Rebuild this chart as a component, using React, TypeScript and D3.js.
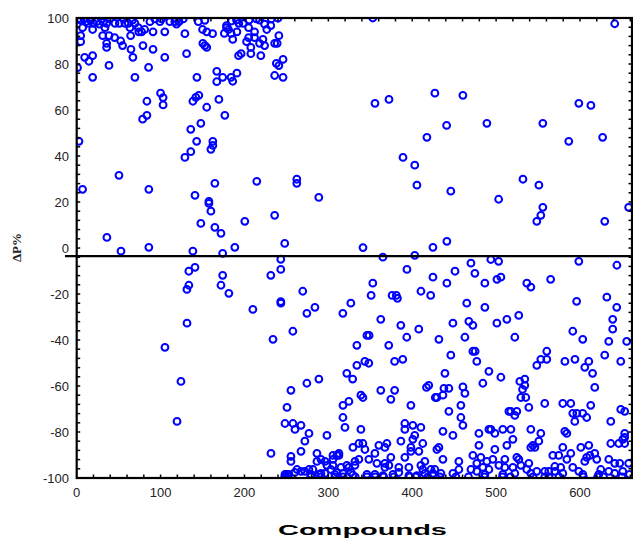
import React from 'react';
import * as d3 from 'd3';

type Pt = [number, number];

const xTickValues = [0, 100, 200, 300, 400, 500, 600];
const yTickValues = [-100, -80, -60, -40, -20, 0, 20, 40, 60, 80, 100];
const referenceLevel = -3.5;

// points, grouped by region
const topRow: Pt[] = [
  [2, 99.6], [4.7, 99.1], [8.7, 99.6], [11, 98.4], [13.8, 97.7], [16.6, 99], [19.8, 97.7], [23.8, 98.4], [27, 97.3],
  [29.7, 99.6], [31.7, 98.1], [35.7, 97.7], [38.9, 99.6], [45.6, 97.7], [50.8, 97.7], [55.5, 99.6], [57.5, 97.7],
  [61.5, 97.7], [63.5, 95.8], [66.6, 99.1], [69.4, 97.7], [73.4, 95.8], [77.4, 94], [87.3, 98.4], [93.2, 99.6],
  [99.2, 98.4], [101.2, 99.6], [111, 98.4], [117, 98.4], [119, 97.3], [122, 98.4], [127, 99.6], [145, 98.4],
  [152.8, 99], [178.6, 95.8], [184.6, 98.7], [190.5, 99.1], [193.3, 97.7], [198.5, 97.7], [205.6, 99.1],
  [214.3, 99.6], [218, 99.1], [224, 97.3], [232, 99.6], [240, 99.9],
];

const upperCluster: Pt[] = [
  [1, 78.4], [7, 95.8], [4.7, 92.3], [4.7, 89.7], [9.5, 82.9], [14.6, 81.2], [19, 83.6], [19, 74.2], [19, 95],
  [31, 92.3], [38.5, 92.3], [35.7, 89], [35.7, 87.2], [38.5, 79.4], [33.7, 95.8], [45.2, 91.5], [52.4, 90],
  [54.7, 88], [64.3, 92.3], [64.7, 86.4], [67, 82.9], [69.4, 74.2], [79, 88], [85.7, 78.5], [91, 86.4], [105, 82.9],
  [105, 94], [91, 94], [81, 95], [74, 94], [129, 93.2], [131, 84.5], [143.3, 74.2], [150, 95], [155, 94], [162, 93.2],
  [150.4, 89], [152.8, 88], [155, 87.2], [167, 76.8], [174, 74.2], [167, 72.3], [184, 74.2], [186, 72.5], [191, 76],
  [176, 93.3], [178.6, 96.7], [181, 95], [184, 93.3], [186, 90.7], [191, 94], [193, 83.6], [196, 84.5], [202.5, 89.7],
  [205, 95.8], [205, 91.5], [207.6, 87.2], [207.6, 84.5], [212, 94], [212, 91.5], [219.5, 83.6], [222, 90.7], [218, 89],
  [224, 88], [226.6, 95], [231.4, 96.7], [236, 89], [239, 89], [241, 92.3], [236, 75], [238, 80.3], [241, 79.3],
  [246, 82], [246, 74.2], [100, 67.3], [103, 65.4], [103, 62.2], [83.7, 63.8], [83.7, 57.7], [78.6, 56], [136, 51.6],
  [148, 54.2], [155, 61.2], [138.5, 63.8], [142, 65.5], [145.6, 66.4], [169.5, 64.6], [176.6, 57.7],
];

const leftMiddle: Pt[] = [
  [2.7, 46.4], [143, 46.4], [162.3, 46.4], [162.3, 44.6], [160, 42.9], [136, 41.9], [129, 39.4], [50.4, 31.6], [7, 25.5],
  [86, 25.5], [164.7, 28.1], [214.7, 29], [262.4, 29.9], [262.4, 28.1], [141, 22.9], [288.6, 22], [157.6, 20.3],
  [157.6, 19.4], [160, 16], [200.4, 11.6], [236, 14.2], [148, 10.7], [164.7, 9], [172, 6.4], [36, 4.6], [188.5, 0.3],
  [248, 2], [86, 0.3], [52.8, -1.4], [138.5, -1.4], [174, -2.3], [243.3, -4.9], [141, -8.4], [133.7, -10.1], [243.3, -9.3],
  [174, -11.9], [231.4, -11.9], [133.7, -16.2], [131.4, -18], [172, -16.2], [181.4, -19.7], [269.5, -18.8], [243.3, -23.3],
  [131.5, -32.7], [105.2, -43.2], [124.3, -58], [119.6, -75.4],
];

const rightUpper: Pt[] = [
  [353, 100], [641.4, 97.5], [355.6, 62.9], [372.3, 64.6], [427, 67.3], [460.4, 66.4], [598.6, 62.9], [613, 62], [441, 53.3],
  [489, 54.2], [555.7, 54.2], [417.5, 48.1], [586.6, 46.4], [627, 48.1], [389, 39.4], [403, 36], [405.6, 27.3], [446, 24.7],
  [532, 29.9], [551, 27.3], [503, 21.2], [658, 17.7], [555.7, 17.7], [553.3, 14.2], [548.5, 11.6], [629.5, 11.6], [341.3, 0.2],
  [441.3, 2.9], [424.7, 0.3], [365, -4], [403, -3.2], [470, -6.6], [493.7, -5], [503, -5.8], [598.6, -5.8], [644, -7.5],
  [393.7, -9.3], [451, -10.1], [474.7, -11], [424.7, -12.7], [501, -13.6], [505.7, -12.7], [565, -13.6], [353, -15.3],
  [441.3, -15.3], [486.6, -15.3], [536.6, -15.3], [541.4, -17], [410.4, -18.8], [351, -20.6], [376, -20.6], [381, -20.6],
  [422, -20.6], [632, -21.4],
];

const lowerMiddle: Pt[] = [
  [210, -26.7], [243.4, -24], [284, -25.8], [274.4, -28.4], [326.8, -24], [317.3, -28.4], [382.4, -21.9], [362.5, -31],
  [386.4, -33.6], [407.8, -35.3], [393.5, -38.8], [257.7, -36.2], [234, -39.7], [346, -38], [348.6, -38], [334, -42.3],
  [372, -42.3], [343.5, -49.3], [348.2, -50.1], [334, -51], [379, -49.3], [388.7, -48.4], [322, -54.5], [329, -57],
  [288.7, -57], [274.4, -58.8], [255.4, -61.9], [362.5, -61.9], [379, -61.9], [419.7, -59.7], [417, -60.6],
  [465, -24], [486.6, -25.8], [596, -23.2], [643.8, -25.8], [639, -31], [639, -35.3], [634.3, -40.6], [655.7, -40.6],
  [527, -29.3], [512.8, -31], [500.9, -32.7], [467.5, -31.9], [472.3, -33.6], [448.5, -32.7], [462.8, -38.8], [431.8, -39.7],
  [522.3, -38.8], [591.4, -36.2], [603.3, -39.7], [446, -46.6], [472.3, -44.9], [475, -44.9], [477, -49.3], [560.4, -44.9],
  [553.3, -48.4], [560.4, -48.4], [548.5, -51], [582, -49.3], [594, -48.4], [610.5, -49.3], [605.7, -51.9], [615, -54.5],
  [629.5, -46.6], [648.6, -49.3], [491.4, -53.6], [439, -54.5], [505.7, -56.2], [484.2, -58.8], [528.3, -58], [534.2, -57],
  [534.2, -59.7], [437.8, -61], [443.7, -61], [460.4, -60.4], [617.6, -60.6], [531.5, -61.5], [462.8, -63.2],
];

const lowerLeft: Pt[] = [
  [338.8, -64], [341.2, -65], [324.5, -66.7], [317.4, -68.4], [374.5, -65.8], [398.4, -68.4], [427.5, -65], [250.7, -69.3],
  [317.4, -73.7], [248.3, -76.3], [257.8, -76.3], [260.2, -78.9], [267.4, -77.1], [276.9, -80.6], [298.3, -81.5], [319.8, -78],
  [338.8, -78.9], [391.2, -76.3], [391.2, -78.9], [400.7, -77.1], [410.3, -78], [403, -81.5], [400.7, -83.2], [386.5, -84],
  [272, -84], [267.4, -88.4], [231.6, -89.3], [255.4, -90.6], [255.4, -92.8], [329.3, -86.7], [336.4, -85], [341.2, -85],
  [343.6, -87.6], [360.2, -85.8], [367.4, -86.7], [369.8, -85], [355.5, -89.3], [398.4, -86.7], [398.4, -88.4], [412.6, -85],
  [407.9, -88.4], [391.2, -91], [374.5, -91], [348.3, -91.9], [336.4, -91.9], [331.7, -92.8], [286.4, -89.3], [305.5, -90.2],
  [310.2, -90.2], [312.6, -89.3], [312.6, -90.2], [286.4, -92.8], [291.2, -91.9], [296, -92.8], [305.5, -91.9], [298.3, -94.5],
  [305.5, -94.5], [315, -95.4], [322, -94.5], [324.5, -95.4], [331.7, -94.5], [357.9, -93.6], [367.4, -93.6], [372.2, -94.5],
  [367.4, -95.4], [384, -95.4], [396, -95.4], [410.3, -94.5], [415, -92.8], [412.6, -96.3], [262.6, -96.3], [260, -97.6],
  [267.4, -97.1], [272, -97.1], [276.9, -96.3], [281.6, -96.3], [291.2, -98], [296, -98], [303, -96.3], [310.2, -97.6],
  [317.4, -98], [327, -97.6], [384, -97.6], [415, -98], [424.6, -98], [248.3, -98.4], [253, -98.4], [250.7, -98.4],
  [279.3, -98.4], [288.8, -98.4], [307.8, -98.4], [329.3, -98.7], [346, -98.4], [355.5, -98.4], [365, -99], [377, -98.4],
  [396, -99], [405.5, -99],
];

const lowerRight: Pt[] = [
  [429.4, -65], [436.6, -64], [458, -68.4], [443.7, -71], [458, -73.7], [460.4, -77.1], [436.6, -79.7], [448.5, -81.5],
  [529.5, -65], [535.4, -65], [558, -67.6], [539, -69.3], [515.2, -71], [517.6, -71], [524.7, -71], [522.3, -72.8],
  [579.5, -67.6], [589, -67.6], [612.8, -68.4], [591.4, -71.9], [596.2, -71.9], [603.3, -71.9], [608, -73.7], [593.8, -75.4],
  [636.7, -75.4], [648.6, -70.2], [653.3, -71], [479.5, -80.6], [491.4, -78.9], [493.8, -78.9], [498.5, -80.6], [508, -78.9],
  [517.6, -78.9], [541.4, -78.9], [553.3, -80.6], [581.9, -79.7], [584.3, -80.6], [653.3, -80.6], [520, -83.2], [550.9, -84],
  [512.8, -85.8], [479.5, -85.8], [498.5, -87.6], [541.4, -86.7], [546.2, -86.7], [543.8, -85.8], [579.5, -86.7], [601, -86.7],
  [610.5, -85.8], [636.7, -85], [646.2, -85], [651, -83.2], [653.3, -82.3], [653.3, -85], [429.4, -87.6], [431.8, -86.7],
  [436.6, -91.9], [472.3, -90.2], [481.8, -91], [455.6, -92.8], [477, -93.6], [489, -92.8], [496.1, -91.9], [510.4, -91.9],
  [524.7, -91], [527.1, -91.9], [539, -93.6], [567.6, -90.2], [574.7, -90.2], [589, -89.3], [584.3, -91.9], [608, -91],
  [617.6, -89.3], [605.7, -92.8], [611.7, -90.2], [620, -91.9], [634.3, -91.9], [641.4, -93.6], [647.4, -93.6], [658, -93.6],
  [484.2, -95.4], [470, -96.3], [503.3, -94.5], [491.4, -96.3], [520, -95.4], [510.4, -95.4], [529.5, -94.5], [536.6, -96.3],
  [548.5, -97.1], [558, -97.1], [570, -95], [577, -95.4], [591.4, -95.4], [570, -97.1], [598.6, -97.1], [624.8, -96.3],
  [634.3, -97.1], [651, -97.1], [422.3, -96.3], [427, -96.3], [434.2, -98], [448.5, -98], [455.6, -96.3], [477, -97.1],
  [486.6, -98.4], [508, -98.4], [522.3, -98], [541.4, -98], [562.8, -97.1], [579.5, -98], [603.3, -98.4], [622.4, -98.4],
  [641.4, -98], [659, -98.4],
];

const bottomRow: Pt[] = [
  [248, -99.5], [279, -99.5], [291, -99.5], [308, -99.5], [317.6, -99.5], [332, -99.5], [346, -99.5], [356, -99.5], [366, -99.5],
  [378, -99.5], [397, -99.5], [404, -99.5], [418.7, -99.5], [433, -99.5], [452, -99.5], [467, -99.5], [486, -99.5], [507.7, -99.5],
  [517, -99.5], [544, -99.5], [558, -99.5], [563, -99.5], [575, -99.5], [604, -99.5], [621, -99.5], [628, -99.5], [650, -99.5],
];

const allPoints = [...topRow, ...upperCluster, ...leftMiddle, ...rightUpper, ...lowerMiddle, ...lowerLeft, ...lowerRight, ...bottomRow];

const WIDTH = 633;
const HEIGHT = 538;

export default function App() {
  const x = d3.scaleLinear().domain([0, 662]).range([76.7, 632]);
  const y = d3.scaleLinear().domain([-100, 100]).range([478, 18]);

  const xMinor = d3.range(0, 661, 20);
  const yMinor = d3.range(-100, 101, 4);
  const left = x.range()[0];
  const right = x.range()[1];
  const top = y.range()[1];
  const bottom = y.range()[0];
  const font = '"Liberation Sans", Arial, sans-serif';

  return (
    <svg width={WIDTH} height={HEIGHT} style={{ position: 'absolute', left: 0, top: 0, background: '#fff' }}>
      <defs>
        <clipPath id="plot-area">
          <rect x={left} y={top} width={right - left} height={bottom - top} />
        </clipPath>
      </defs>

      {/* points go under the frame, they get cut off at the top and bottom */}
      <g clipPath="url(#plot-area)">
        {allPoints.map((d, i) => (
          <circle key={i} cx={x(d[0])} cy={y(d[1])} r={3.4} fill="none" stroke="#0000ff" strokeWidth={2} />
        ))}
      </g>

      {/* tick marks on all four sides */}
      <g stroke="#000" strokeWidth={1.5}>
        {xMinor.map(t => (
          <g key={t}>
            <line x1={x(t)} x2={x(t)} y1={bottom} y2={bottom - 3.5} />
            <line x1={x(t)} x2={x(t)} y1={top} y2={top + 3.5} />
          </g>
        ))}
        {yMinor.map(t => (
          <g key={t}>
            <line x1={left} x2={left + 3.5} y1={y(t)} y2={y(t)} />
            <line x1={right} x2={right - 3.5} y1={y(t)} y2={y(t)} />
          </g>
        ))}
      </g>

      <rect x={left} y={top} width={right - left} height={bottom - top} fill="none" stroke="#000" strokeWidth={2.2} />
      <line x1={65} x2={right} y1={y(referenceLevel)} y2={y(referenceLevel)} stroke="#000" strokeWidth={2.2} />

      <g fontFamily={font} fontSize={13} fill="#222">
        {xTickValues.map(t => (
          <text key={t} x={x(t)} y={497} textAnchor="middle">{t}</text>
        ))}
        {yTickValues.map(t => (
          <text key={t} x={69} y={y(t) + 4.5} textAnchor="end">{t}</text>
        ))}
      </g>

      <text x={278} y={535} textLength={169} lengthAdjust="spacingAndGlyphs" fontFamily={font} fontWeight="bold" fontSize={15} fill="#000">
        Compounds
      </text>
      <text
        transform="translate(21,247.5) rotate(-90)"
        textAnchor="middle"
        fontFamily='"Liberation Serif", serif'
        fontWeight="bold"
        fontSize={13}
        fill="#222"
      >
        ΔP%
      </text>
    </svg>
  );
}
